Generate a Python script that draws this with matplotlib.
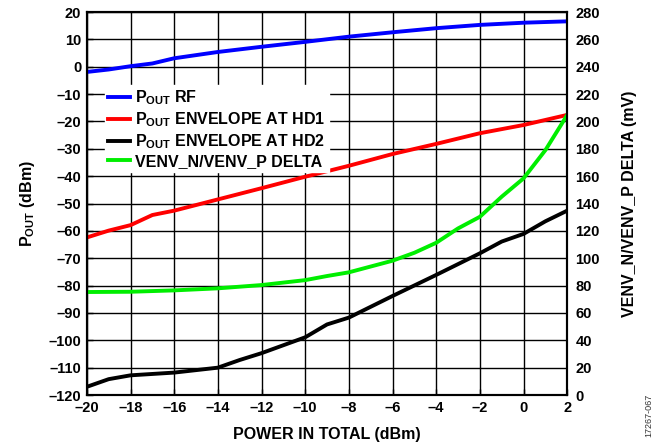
import numpy as np
import matplotlib
matplotlib.use("Agg")
import matplotlib.pyplot as plt

plt.rcParams['font.family'] = ['Liberation Sans', 'DejaVu Sans']
plt.rcParams['font.weight'] = 'bold'
plt.rcParams['axes.labelweight'] = 'bold'
plt.rcParams['font.size'] = 10
plt.rcParams['mathtext.fontset'] = 'custom'
plt.rcParams['mathtext.rm'] = 'Liberation Sans:bold'
plt.rcParams['mathtext.it'] = 'Liberation Sans:bold'
plt.rcParams['mathtext.bf'] = 'Liberation Sans:bold'
plt.rcParams['mathtext.default'] = 'rm'

# power in (dBm)
x_rf = [-20, -19, -18, -17, -16, -14, -12, -10, -8, -6, -4, -2, 0, 2]
rf = [-1.9, -1.0, 0.2, 1.2, 3.1, 5.4, 7.3, 9.1, 11.0, 12.6, 14.1, 15.3, 16.1, 16.6]

x_hd1 = [-20, -19, -18, -17, -16, -14, -12, -10, -9, -8, -6, -4, -2, 0, 2]
hd1 = [-62.4, -59.9, -57.9, -54.2, -52.6, -48.5, -44.4, -40.2, -38.2, -36.2, -31.9,
       -28.2, -24.3, -21.3, -17.6]

x_hd2 = [-20, -19, -18, -16, -14, -13, -12, -10, -9, -8, -6, -4, -2, -1, 0, 1, 2]
hd2 = [-117.0, -114.2, -112.8, -111.8, -110.0, -107.2, -104.7, -98.9, -94.2, -91.7,
       -83.8, -76.1, -68.2, -63.9, -61.1, -56.5, -52.6]

# VENV_N/VENV_P delta (mV)
x_delta = [-20, -18, -16, -14, -12, -10, -9, -8, -6, -5, -4, -3, -2, -1, 0, 1, 2]
delta = [75.3, 75.5, 76.5, 78.0, 80.4, 84.0, 87.0, 89.7, 98.2, 104.0, 111.3, 121.8,
         130.3, 145.0, 158.4, 179.0, 204.7]

fig = plt.figure(figsize=(6.63, 4.46), dpi=100)
ax = fig.add_axes([0.131, 0.1143, 0.7245, 0.8587])
ax2 = ax.twinx()

l1, = ax.plot(x_rf, rf, color='#0000ff', lw=2.8)
l2, = ax.plot(x_hd1, hd1, color='#ff0000', lw=2.8)
l3, = ax.plot(x_hd2, hd2, color='black', lw=2.8)
l4, = ax2.plot(x_delta, delta, color='#00ee00', lw=2.8)

ax.set_xlim(-20, 2)
ax.set_ylim(-120, 20)
ax2.set_ylim(0, 280)
ax.set_xticks(np.arange(-20, 3, 2))
ax.set_yticks(np.arange(-120, 21, 10))
ax2.set_yticks(np.arange(0, 281, 20))
ax.set_xticklabels([str(v).replace('-', '\u2013') for v in range(-20, 3, 2)])
ax.set_yticklabels([str(v).replace('-', '\u2013') for v in range(-120, 21, 10)])
ax.grid(True, color='black', lw=1)
ax.tick_params(direction='in', length=4, width=1, pad=4, labelsize=10.5)
ax2.tick_params(direction='in', length=0, pad=6, labelsize=10.5)
for a in (ax, ax2):
    for s in a.spines.values():
        s.set_linewidth(1.5)

ax.set_xlabel('POWER IN TOTAL (dBm)', fontsize=11.5, fontweight='bold', labelpad=9)
ax.set_ylabel('P$_{OUT}$ (dBm)', fontsize=11.5, fontweight='bold', labelpad=8)
ax2.set_ylabel('VENV_N/VENV_P DELTA (mV)', fontsize=11.5, fontweight='bold', labelpad=16)

leg = ax2.legend([l1, l2, l3, l4],
                 ['P$_{OUT}$ RF', 'P$_{OUT}$ ENVELOPE AT HD1',
                  'P$_{OUT}$ ENVELOPE AT HD2', 'VENV_N/VENV_P DELTA'],
                 loc='upper left', bbox_to_anchor=(0.021, 0.83), frameon=True,
                 fancybox=False, edgecolor='white', framealpha=1,
                 handlelength=1.35, handletextpad=0.35, labelspacing=0.2,
                 borderpad=0.2, prop={'weight': 'bold', 'size': 11.5})

fig.text(0.985, 0.02, '17267-067', rotation=90, fontsize=6.5, fontweight='normal',
         color='#333333', ha='right', va='bottom')

fig.savefig('out.png', dpi=100)
